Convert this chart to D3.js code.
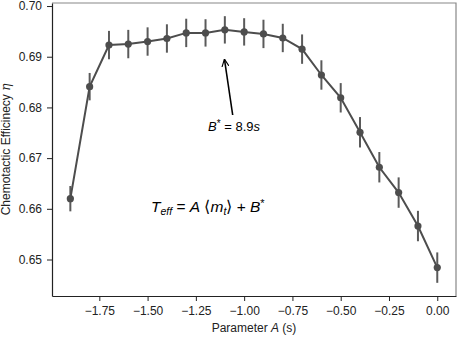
<!DOCTYPE html>
<html>
<head>
<meta charset="utf-8">
<script src="https://cdn.jsdelivr.net/npm/d3@7"></script>
<style>
  body { margin: 0; background: #fff; }
  svg { display: block; font-family: "Liberation Sans", Arial, sans-serif; }
  .tick text { font-size: 12px; fill: #222; }
</style>
</head>
<body>
<div id="chart"></div>
<script>
const paramA = [-1.9, -1.8, -1.7, -1.6, -1.5, -1.4, -1.3, -1.2, -1.1, -1.0,
  -0.9, -0.8, -0.7, -0.6, -0.5, -0.4, -0.3, -0.2, -0.1, 0.0];
const efficiency = [0.6620, 0.6841, 0.6923, 0.6925, 0.6930, 0.6936, 0.6947, 0.6947, 0.6953, 0.6949,
  0.6945, 0.6937, 0.6915, 0.6864, 0.6819, 0.6751, 0.6682, 0.6632, 0.6566, 0.6484];
const errors = [0.0025, 0.0027, 0.0028, 0.0028, 0.0028, 0.0028, 0.0028, 0.0027, 0.0027, 0.0027,
  0.0028, 0.0028, 0.0029, 0.0029, 0.0029, 0.0030, 0.0030, 0.0030, 0.0030, 0.0030];
const xTicks = [-1.75, -1.5, -1.25, -1.0, -0.75, -0.5, -0.25, 0.0];
const yTicks = [0.65, 0.66, 0.67, 0.68, 0.69, 0.70];

const width = 457, height = 337;
const margin = { top: 3, right: 1, bottom: 41, left: 52 };
const grey = "#4d4d4d";

const x = d3.scaleLinear()
  .domain([-1.995, 0.097])
  .range([margin.left, width - margin.right]);
const y = d3.scaleLinear()
  .domain([0.6428, 0.7006])
  .range([height - margin.bottom, margin.top]);

const data = paramA.map((a, i) => ({ a, eta: efficiency[i], err: errors[i] }));

const svg = d3.select("#chart").append("svg")
  .attr("width", width)
  .attr("height", height);

// frame: top/right lighter
svg.append("path")
  .attr("d", `M${margin.left},${margin.top}H${width - margin.right}V${height - margin.bottom}`)
  .attr("fill", "none")
  .attr("stroke", "#888")
  .attr("stroke-width", 1.2);

const gX = svg.append("g")
  .attr("transform", `translate(0,${height - margin.bottom})`)
  .call(d3.axisBottom(x).tickValues(xTicks).tickFormat(d3.format(".2f"))
    .tickSize(5).tickSizeOuter(0).tickPadding(5))
  .call((g) => g.select(".domain").attr("stroke", "#222").attr("stroke-width", 1.2));
gX.selectAll(".tick line").attr("stroke", "#222");

const gY = svg.append("g")
  .attr("transform", `translate(${margin.left},0)`)
  .call(d3.axisLeft(y).tickValues(yTicks).tickFormat(d3.format(".2f"))
    .tickSize(5).tickSizeOuter(0).tickPadding(5))
  .call((g) => g.select(".domain").attr("stroke", "#222").attr("stroke-width", 1.2));
gY.selectAll(".tick line").attr("stroke", "#222");

// axis titles
svg.append("text")
  .attr("x", (margin.left + width - margin.right) / 2)
  .attr("y", 332)
  .attr("text-anchor", "middle")
  .attr("font-size", 12)
  .attr("fill", "#222")
  .call((t) => {
    t.append("tspan").text("Parameter ");
    t.append("tspan").attr("font-style", "italic").text("A");
    t.append("tspan").text(" (s)");
  });

svg.append("text")
  .attr("transform", `translate(9.5,${(margin.top + height - margin.bottom) / 2}) rotate(-90)`)
  .attr("text-anchor", "middle")
  .attr("font-size", 12)
  .attr("fill", "#222")
  .call((t) => {
    t.append("tspan").text("Chemotactic Efficinecy ");
    t.append("tspan").attr("font-family", "DejaVu Serif").attr("font-style", "italic").text("\u03b7");
  });

// error bars
svg.append("g")
  .selectAll("line")
  .data(data)
  .join("line")
  .attr("x1", (d) => x(d.a))
  .attr("x2", (d) => x(d.a))
  .attr("y1", (d) => y(d.eta - d.err))
  .attr("y2", (d) => y(d.eta + d.err))
  .attr("stroke", "#5a5a5a")
  .attr("stroke-width", 2);

// line
svg.append("path")
  .datum(data)
  .attr("fill", "none")
  .attr("stroke", grey)
  .attr("stroke-width", 2)
  .attr("d", d3.line().x((d) => x(d.a)).y((d) => y(d.eta)));

// markers
svg.append("g")
  .selectAll("circle")
  .data(data)
  .join("circle")
  .attr("cx", (d) => x(d.a))
  .attr("cy", (d) => y(d.eta))
  .attr("r", 3.6)
  .attr("fill", grey);

// arrow annotation
svg.append("defs").append("marker")
  .attr("id", "arrowhead")
  .attr("viewBox", "0 -5 10 10")
  .attr("refX", 9)
  .attr("refY", 0)
  .attr("markerWidth", 8)
  .attr("markerHeight", 8)
  .attr("markerUnits", "userSpaceOnUse")
  .attr("orient", "auto")
  .append("path")
  .attr("d", "M0,-4.5L9.5,0L0,4.5")
  .attr("fill", "none")
  .attr("stroke", "#000")
  .attr("stroke-width", 1.4);

svg.append("line")
  .attr("x1", 232.7).attr("y1", 115)
  .attr("x2", 224.5).attr("y2", 59.5)
  .attr("stroke", "#000")
  .attr("stroke-width", 1.6)
  .attr("marker-end", "url(#arrowhead)");

svg.append("text")
  .attr("x", 234)
  .attr("y", 131)
  .attr("text-anchor", "middle")
  .attr("font-size", 13)
  .attr("fill", "#000")
  .call((t) => {
    t.append("tspan").attr("font-style", "italic").text("B");
    t.append("tspan").attr("dy", -4).attr("font-size", 10).text("*");
    t.append("tspan").attr("dy", 4).text(" = 8.9");
    t.append("tspan").attr("font-style", "italic").text("s");
  });

svg.append("text")
  .attr("x", 151)
  .attr("y", 211.5)
  .attr("font-size", 15.5)
  .attr("fill", "#000")
  .call((t) => {
    t.append("tspan").attr("font-style", "italic").text("T");
    t.append("tspan").attr("font-style", "italic").attr("font-size", 10.5).attr("dy", 3).text("eff");
    t.append("tspan").attr("dy", -3).text(" = ");
    t.append("tspan").attr("font-style", "italic").text("A");
    t.append("tspan").text(" \u27e8");
    t.append("tspan").attr("font-style", "italic").text("m");
    t.append("tspan").attr("font-style", "italic").attr("font-size", 10.5).attr("dy", 3).text("t");
    t.append("tspan").attr("dy", -3).text("\u27e9 + ");
    t.append("tspan").attr("font-style", "italic").text("B");
    t.append("tspan").attr("font-size", 11).attr("dy", -5).text("*");
  });
</script>
</body>
</html>
